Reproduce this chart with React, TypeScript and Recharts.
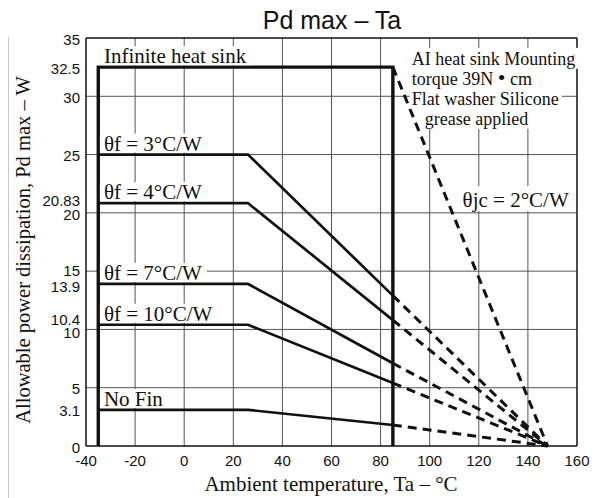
import React from 'react';
import { LineChart, Line, XAxis, YAxis, CartesianGrid, ReferenceLine, ReferenceDot } from 'recharts';

// ---- axis ticks & grid ----
const xTicks = [-40, -20, 0, 20, 40, 60, 80, 100, 120, 140, 160];
const yTicks = [0, 3.1, 5, 10, 10.4, 13.9, 15, 20, 20.83, 25, 30, 32.5, 35];
const gridX = [-20, 0, 20, 40, 60, 80, 100, 120, 140];
const gridY = [5, 10, 15, 20, 25, 30];

// ---- series (t = ambient temperature °C, p = allowable power W) ----
const infiniteSink = [
  { t: -35, p: 0 },
  { t: -35, p: 32.5 },
  { t: 85, p: 32.5 },
  { t: 85, p: 0 },
];
const thetaJc = [
  { t: 85, p: 32.5 },
  { t: 148, p: 0 },
];
const fin3Solid = [
  { t: -35, p: 25 },
  { t: 26, p: 25 },
  { t: 85, p: 12.9 },
];
const fin3Dash = [
  { t: 85, p: 12.9 },
  { t: 148, p: 0 },
];
const fin4Solid = [
  { t: -35, p: 20.83 },
  { t: 26, p: 20.83 },
  { t: 85, p: 10.8 },
];
const fin4Dash = [
  { t: 85, p: 10.8 },
  { t: 148, p: 0 },
];
const fin7Solid = [
  { t: -35, p: 13.9 },
  { t: 26, p: 13.9 },
  { t: 85, p: 7.1 },
];
const fin7Dash = [
  { t: 85, p: 7.1 },
  { t: 148, p: 0 },
];
const fin10Solid = [
  { t: -35, p: 10.4 },
  { t: 26, p: 10.4 },
  { t: 85, p: 5.4 },
];
const fin10Dash = [
  { t: 85, p: 5.4 },
  { t: 148, p: 0 },
];
const noFinSolid = [
  { t: -35, p: 3.1 },
  { t: 26, p: 3.1 },
  { t: 85, p: 1.8 },
];
const noFinDash = [
  { t: 85, p: 1.8 },
  { t: 148, p: 0 },
];

// ---- curve labels (anchored at curve level) ----
const curveLabels = [
  { text: 'Infinite heat sink', t: -32.7, p: 32.5 },
  { text: 'θf = 3°C/W', t: -32.7, p: 25 },
  { text: 'θf = 4°C/W', t: -32.7, p: 20.83 },
  { text: 'θf = 7°C/W', t: -32.7, p: 13.9 },
  { text: 'θf = 10°C/W', t: -32.7, p: 10.4 },
  { text: 'No Fin', t: -32.7, p: 3.1 },
];
const noteLines = [
  { before: 'AI heat sink Mounting', bullet: '', after: '', indent: 0 },
  { before: 'torque 39N ', bullet: '•', after: ' cm', indent: 0 },
  { before: 'Flat washer Silicone', bullet: '', after: '', indent: 0 },
  { before: 'grease applied', bullet: '', after: '', indent: 13 },
];
const noteAnchor = { t: 92.7, p: 32.7 };
const jcLabel = { text: 'θjc = 2°C/W', t: 113.4, p: 20.5 };

const SERIF = '"Liberation Serif", "Times New Roman", serif';
const SANS = '"Liberation Sans", Arial, sans-serif';
const INK = '#111';

function measure(text: string, size: number, family: string) {
  try {
    const ctx = document.createElement('canvas').getContext('2d');
    if (ctx) {
      ctx.font = `${size}px ${family}`;
      return ctx.measureText(text).width;
    }
  } catch (e) {}
  return text.length * size * 0.48;
}

const CurveLabel = (props: any) => {
  const { cx, cy, text } = props;
  const fs = 21;
  const w = measure(text, fs, SERIF);
  const base = cy - 4;
  return (
    <g>
      <rect x={cx - 4} y={base - 17} width={w + 9} height={19} fill="#fff" />
      <text x={cx} y={base} fontFamily={SERIF} fontSize={fs} fill={INK}>
        {text}
      </text>
    </g>
  );
};

const NoteBlock = (props: any) => {
  const { cx, cy } = props;
  const fs = 18;
  const lh = 20;
  return (
    <g>
      {noteLines.map((l, i) => {
        const w = measure(l.before + l.bullet + l.after, fs, SERIF) + (l.bullet ? 3 : 0);
        return (
          <rect key={'r' + i} x={cx + l.indent - 2} y={cy + i * lh - 17} width={w + 5} height={lh + 1} fill="#fff" />
        );
      })}
      {noteLines.map((l, i) => (
        <text key={i} x={cx + l.indent} y={cy + i * lh} fontFamily={SERIF} fontSize={fs} fill={INK} style={{ whiteSpace: 'pre' }}>
          {l.before}
          {l.bullet ? <tspan fontSize={22}>{l.bullet}</tspan> : null}
          {l.after}
        </text>
      ))}
    </g>
  );
};

const JcLabel = (props: any) => {
  const { cx, cy } = props;
  const fs = 21;
  const w = measure(jcLabel.text, fs, SERIF);
  return (
    <g>
      <rect x={cx - 4} y={cy - 21} width={w + 8} height={25} fill="#fff" />
      <text x={cx} y={cy} fontFamily={SERIF} fontSize={fs} fill={INK}>
        {jcLabel.text}
      </text>
    </g>
  );
};

const YTick = (props: any) => {
  const { x, y, payload } = props;
  const v = payload.value;
  const nudge =
    v === 10.4 ? -5 : v === 10 ? 3 : v === 20.83 ? -3 : v === 20 ? 2 : v === 15 ? -1 : v === 13.9 ? 2.5 : 1;
  return (
    <text x={x} y={y + 5.5 + nudge} textAnchor="end" fontFamily={SANS} fontSize={15} fill={INK}>
      {String(v)}
    </text>
  );
};

const XTick = (props: any) => {
  const { x, y, payload } = props;
  return (
    <text x={x} y={y + 14} textAnchor="middle" fontFamily={SANS} fontSize={15} fill={INK}>
      {String(payload.value)}
    </text>
  );
};

const solid = { stroke: INK, strokeWidth: 2.7, dot: false, isAnimationActive: false, type: 'linear' as const };
const dashed = { stroke: INK, strokeWidth: 3, strokeDasharray: '9 6', dot: false, isAnimationActive: false, type: 'linear' as const };

export default function App() {
  return (
    <div style={{ position: 'relative', width: 594, height: 490 }}>
      <LineChart width={594} height={490} margin={{ top: 30, right: 25, bottom: 0, left: 0 }}>
        <XAxis
          dataKey="t"
          type="number"
          domain={[-40, 160]}
          ticks={xTicks}
          interval={0}
          height={52}
          tickLine={false}
          tickMargin={0}
          tick={<XTick />}
          axisLine={{ stroke: INK, strokeWidth: 1.5 }}
          allowDuplicatedCategory={false}
        />
        <YAxis
          dataKey="p"
          type="number"
          domain={[0, 35]}
          ticks={yTicks}
          interval={0}
          width={78}
          tickLine={false}
          tickMargin={0}
          tick={<YTick />}
          axisLine={{ stroke: INK, strokeWidth: 1.5 }}
        />
        <CartesianGrid stroke="#555" strokeWidth={1} horizontalValues={gridY} verticalValues={gridX} />
        <ReferenceLine y={35} stroke={INK} strokeWidth={1.5} />
        <ReferenceLine x={160} stroke={INK} strokeWidth={1.5} />

        {curveLabels.map((l) => (
          <ReferenceDot
            key={l.text}
            x={l.t}
            y={l.p}
            ifOverflow="visible"
            shape={(p: any) => <CurveLabel {...p} text={l.text} />}
          />
        ))}
        <ReferenceDot x={noteAnchor.t} y={noteAnchor.p} ifOverflow="visible" shape={(p: any) => <NoteBlock {...p} />} />
        <ReferenceDot x={jcLabel.t} y={jcLabel.p} ifOverflow="visible" shape={(p: any) => <JcLabel {...p} />} />

        <Line data={infiniteSink} dataKey="p" stroke={INK} strokeWidth={3.4} dot={false} isAnimationActive={false} type="linear" />
        <Line data={thetaJc} dataKey="p" {...dashed} />
        <Line data={fin3Solid} dataKey="p" {...solid} />
        <Line data={fin3Dash} dataKey="p" {...dashed} />
        <Line data={fin4Solid} dataKey="p" {...solid} />
        <Line data={fin4Dash} dataKey="p" {...dashed} />
        <Line data={fin7Solid} dataKey="p" {...solid} />
        <Line data={fin7Dash} dataKey="p" {...dashed} />
        <Line data={fin10Solid} dataKey="p" {...solid} />
        <Line data={fin10Dash} dataKey="p" {...dashed} />
        <Line data={noFinSolid} dataKey="p" {...solid} />
        <Line data={noFinDash} dataKey="p" {...dashed} />
      </LineChart>
      <svg
        width={602}
        height={498}
        style={{ position: 'absolute', left: -8, top: -8, pointerEvents: 'none', overflow: 'visible' }}
      >
        <text x={332} y={29} textAnchor="middle" fontFamily={SANS} fontSize={25} fill={INK}>
          Pd max – Ta
        </text>
        <text
          x={30}
          y={250}
          transform="rotate(-90 30 250)"
          textAnchor="middle"
          fontFamily={SERIF}
          fontSize={20.5}
          fill={INK}
        >
          Allowable power dissipation, Pd max – W
        </text>
        <text x={331} y={491} textAnchor="middle" fontFamily={SERIF} fontSize={21} fill={INK}>
          Ambient temperature, Ta – °C
        </text>
        <path d="M0 38 H7.5 V498" fill="none" stroke="#222" strokeWidth={1.5} />
      </svg>
    </div>
  );
}
